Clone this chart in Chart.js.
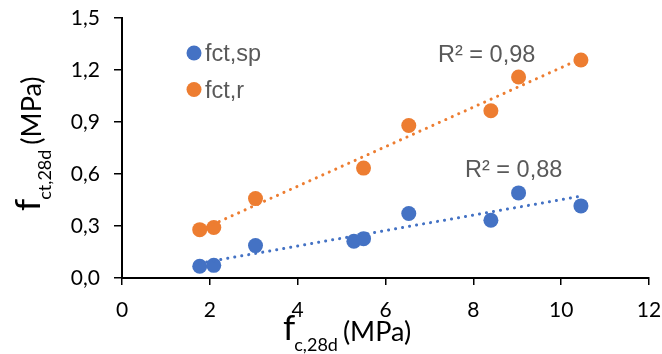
<!DOCTYPE html>
<html>
<head>
<meta charset="utf-8">
<script src="https://cdn.jsdelivr.net/npm/chart.js@4"></script>
<style>
  html, body { margin: 0; padding: 0; background: #fff; }
</style>
</head>
<body>
<canvas id="chart" width="662" height="354"></canvas>
<script>
// values
const spX = [1.77, 2.09, 3.04, 5.28, 5.50, 6.53, 8.40, 9.03, 10.45];
const spY = [0.068, 0.073, 0.187, 0.212, 0.227, 0.372, 0.333, 0.491, 0.416];
const rX = [1.77, 2.09, 3.04, 5.50, 6.53, 8.40, 9.03, 10.45];
const rY = [0.279, 0.291, 0.458, 0.634, 0.880, 0.965, 1.160, 1.258];
const seriesNames = ['fct,sp', 'fct,r'];
const r2Labels = ['R² = 0,88', 'R² = 0,98'];
const xTicks = [0, 2, 4, 6, 8, 10, 12];
const yTicks = [0, 0.3, 0.6, 0.9, 1.2, 1.5];

const BLUE = '#4472C4', ORANGE = '#ED7D31', GREY = '#595959';
const SANS = '"Liberation Sans", Arial, sans-serif';
const LATO = 'Lato, "Open Sans", sans-serif';

const pts = (xs, ys) => xs.map((x, i) => ({ x, y: ys[i] }));

// least squares trend line over the series' own x range
function trend(xs, ys) {
  const n = xs.length;
  const mx = xs.reduce((a, b) => a + b, 0) / n;
  const my = ys.reduce((a, b) => a + b, 0) / n;
  let sxy = 0, sxx = 0;
  xs.forEach((x, i) => { sxy += (x - mx) * (ys[i] - my); sxx += (x - mx) * (x - mx); });
  const k = sxy / sxx, b = my - k * mx;
  const x0 = Math.min(...xs), x1 = Math.max(...xs);
  return [{ x: x0, y: k * x0 + b }, { x: x1, y: k * x1 + b }];
}

const trendStyle = c => ({
  type: 'line', borderColor: c, borderWidth: 3, borderDash: [0.1, 7],
  borderCapStyle: 'round', pointRadius: 0, fill: false, order: 0
});

// "f" + subscript + "(MPa)", starting at x0 on baseline base
function drawTitle(ctx, x0, base, sub) {
  ctx.save();
  ctx.fillStyle = '#000';
  ctx.textBaseline = 'alphabetic';
  ctx.textAlign = 'left';
  ctx.font = '35px ' + LATO;
  ctx.fillText('f', x0, base);
  let x = x0 + ctx.measureText('f').width - 1;
  ctx.font = '18px ' + LATO;
  ctx.fillText(sub, x, base + 11);
  x += ctx.measureText(sub).width + 5;
  ctx.font = '27px ' + LATO;
  ctx.fillText('(MPa)', x, base + 1);
  ctx.restore();
}

const overlay = {
  id: 'overlay',
  afterDraw(chart) {
    const ctx = chart.ctx;
    // axis titles
    drawTitle(ctx, 283, 340, 'c,28d');
    ctx.save();
    ctx.translate(40, 211);
    ctx.rotate(-Math.PI / 2);
    drawTitle(ctx, 0, 0, 'ct,28d');
    ctx.restore();

    // legend
    ctx.save();
    ctx.font = '23.5px ' + SANS;
    ctx.textBaseline = 'alphabetic';
    [[BLUE, 53, 61], [ORANGE, 89.5, 97.5]].forEach(([c, cy, by], i) => {
      ctx.fillStyle = c;
      ctx.beginPath(); ctx.arc(194, cy, 7.5, 0, Math.PI * 2); ctx.fill();
      ctx.fillStyle = GREY;
      ctx.fillText(seriesNames[i], 205, by);
    });
    // R² labels
    ctx.font = '23.5px ' + SANS;
    ctx.fillText(r2Labels[1], 438, 62);
    ctx.fillText(r2Labels[0], 465, 177);
    ctx.restore();
  }
};

new Chart(document.getElementById('chart'), {
  type: 'scatter',
  data: {
    datasets: [
      { label: seriesNames[0], data: pts(spX, spY), backgroundColor: BLUE, borderWidth: 0, pointRadius: 7.5, order: 1 },
      { label: seriesNames[1], data: pts(rX, rY), backgroundColor: ORANGE, borderWidth: 0, pointRadius: 7.5, order: 1 },
      Object.assign({ label: 'trend sp', data: trend(spX, spY) }, trendStyle(BLUE)),
      Object.assign({ label: 'trend r', data: trend(rX, rY) }, trendStyle(ORANGE))
    ]
  },
  options: {
    responsive: false,
    animation: false,
    devicePixelRatio: 1,
    layout: { padding: { top: 18, right: 13, left: 0, bottom: 0 } },
    plugins: { legend: { display: false }, tooltip: { enabled: false } },
    scales: {
      x: {
        type: 'linear', min: 0, max: 12,
        afterBuildTicks: s => { s.ticks = xTicks.map(v => ({ value: v })); },
        afterFit: s => { s.height = 76; s.paddingLeft = 0; s.paddingRight = 0; },
        ticks: { color: '#000', font: { family: LATO, size: 21 }, padding: 13, callback: v => String(v) },
        grid: { drawOnChartArea: false, color: '#000', lineWidth: 1.5, tickLength: 7 },
        border: { color: '#000', width: 2 }
      },
      y: {
        min: 0, max: 1.5,
        afterBuildTicks: s => { s.ticks = yTicks.map(v => ({ value: v })); },
        afterFit: s => { s.width = 122; s.paddingTop = 0; s.paddingBottom = 0; },
        ticks: { color: '#000', font: { family: LATO, size: 21 }, padding: 14,
                 callback: v => v.toFixed(1).replace('.', ',') },
        grid: { drawOnChartArea: false, color: '#000', lineWidth: 1.5, tickLength: 8 },
        border: { color: '#000', width: 2 }
      }
    }
  },
  plugins: [overlay]
});
</script>
</body>
</html>
